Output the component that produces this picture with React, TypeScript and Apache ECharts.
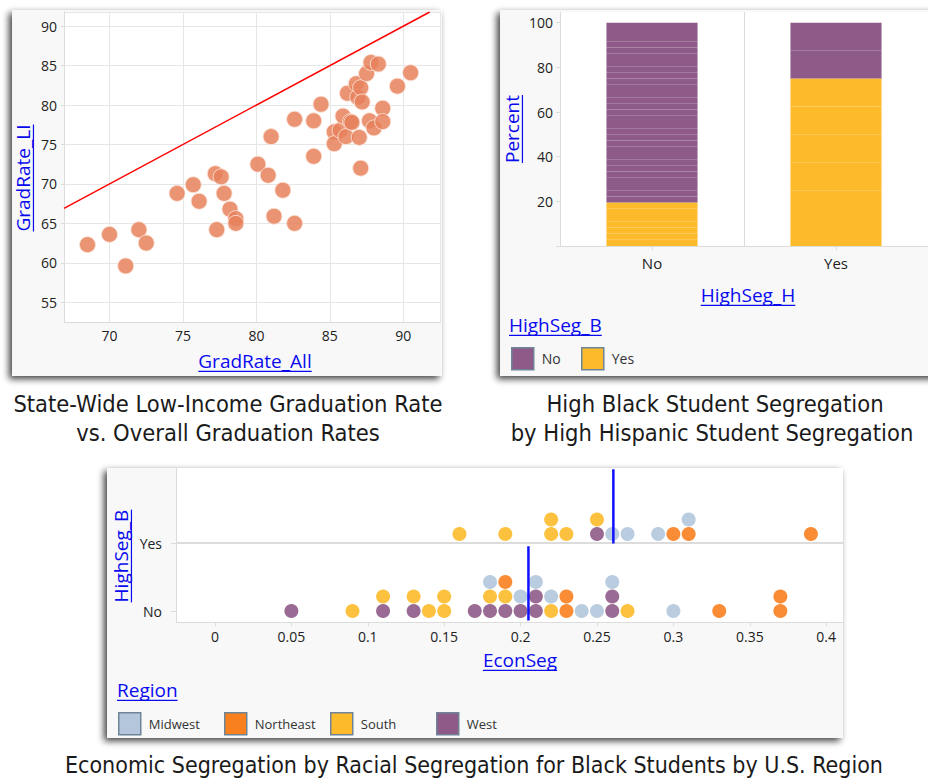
import React, { useEffect, useRef } from 'react';
import * as echarts from 'echarts';

// ---------- Panel 1: graduation rates ----------
const gradRateAll = [68.5, 70.0, 71.1, 72.0, 72.5, 74.6, 75.7, 76.1, 77.2, 77.6, 77.8, 77.3, 78.2, 78.6, 78.6, 80.1, 80.8, 81.0, 81.8, 81.2, 82.6, 82.6, 83.9, 83.9, 84.4, 85.3, 85.3, 85.7, 85.9, 86.1, 86.2, 86.4, 86.5, 86.8, 86.9, 87.0, 87.1, 87.1, 87.2, 87.5, 87.8, 88.3, 87.7, 88.0, 88.6, 88.6, 89.6, 90.5];
const gradRateLI = [62.3, 63.6, 59.6, 64.2, 62.5, 68.8, 69.9, 67.8, 71.3, 70.9, 68.8, 64.2, 66.8, 65.6, 65.0, 72.5, 71.1, 76.0, 69.2, 65.9, 78.2, 65.0, 78.0, 73.5, 80.1, 76.6, 75.1, 76.8, 78.6, 76.0, 81.5, 77.9, 77.8, 82.7, 81.0, 75.9, 82.2, 72.0, 80.4, 84.0, 85.4, 85.2, 78.0, 77.1, 79.6, 77.9, 82.4, 84.1];
const identityLine = [66.9, 91.8];

// ---------- Panel 2: segregation stacked percent ----------
const highSegH = ['No', 'Yes'];
const highSegBNoCount = [29, 2];
const highSegBYesCount = [7, 6];
const highSegBLevels = ['No', 'Yes'];

// ---------- Panel 3: economic segregation dot plot ----------
const highSegBRows = ['No', 'Yes'];
const econSegNo = [0.05, 0.09, 0.11, 0.11, 0.13, 0.13, 0.14, 0.15, 0.15, 0.17, 0.18, 0.18, 0.18, 0.19, 0.19, 0.19, 0.20, 0.20, 0.21, 0.21, 0.21, 0.22, 0.22, 0.23, 0.23, 0.24, 0.25, 0.26, 0.26, 0.26, 0.27, 0.30, 0.33, 0.37, 0.37];
const regionNo = ['West', 'South', 'West', 'South', 'West', 'South', 'South', 'South', 'South', 'West', 'West', 'South', 'Midwest', 'West', 'South', 'Northeast', 'West', 'Midwest', 'West', 'West', 'Midwest', 'South', 'Midwest', 'Northeast', 'Northeast', 'Midwest', 'Midwest', 'West', 'West', 'Midwest', 'South', 'Midwest', 'Northeast', 'Northeast', 'Northeast'];
const econSegYes = [0.16, 0.19, 0.22, 0.22, 0.23, 0.25, 0.25, 0.26, 0.27, 0.29, 0.30, 0.31, 0.31, 0.39];
const regionYes = ['South', 'South', 'South', 'South', 'South', 'West', 'South', 'Midwest', 'Midwest', 'Midwest', 'Northeast', 'Northeast', 'Midwest', 'Northeast'];
const regions = ['Midwest', 'Northeast', 'South', 'West'];

const regionColors: Record<string, string> = {
  Midwest: '#b3c6dc',
  Northeast: '#f9801f',
  South: '#fdba2b',
  West: '#8e5a87',
};
const PURPLE = '#8e5a87';
const YELLOW = '#fdba2b';
const LINK = '#0a0aee';
const UI_FONT = "'Open Sans', 'Noto Sans', sans-serif";
const CAPTION_FONT = "'DejaVu Sans Condensed', 'Liberation Sans Narrow', sans-serif";

function buildOption() {
  const canvas = document.createElement('canvas');
  const ctx = canvas.getContext('2d')!;
  const measure = (t: string, size: number, fam: string) => {
    ctx.font = `${size}px ${fam}`;
    return ctx.measureText(t).width;
  };

  // ----- graphic: cards, titles, captions -----
  const graphics: any[] = [];
  const cards = [
    { x: 12, y: 10, w: 430, h: 366 },
    { x: 500, y: 10, w: 440, h: 366 },
    { x: 107, y: 468, w: 736, h: 270 },
  ];
  cards.forEach((c) => {
    graphics.push({
      type: 'rect',
      z: -10,
      shape: { x: c.x, y: c.y, width: c.w, height: c.h },
      style: {
        fill: '#f8f8f8',
        shadowBlur: 7,
        shadowColor: 'rgba(0,0,0,0.75)',
        shadowOffsetX: -3,
        shadowOffsetY: 3,
      },
    });
  });

  const TFS = 19;
  const axisTitles = [
    { text: 'GradRate_All', x: 255, y: 361, rot: false, left: false },
    { text: 'GradRate_LI', x: 23, y: 178, rot: true, left: false },
    { text: 'Percent', x: 512, y: 129, rot: true, left: false },
    { text: 'HighSeg_H', x: 748, y: 295, rot: false, left: false },
    { text: 'HighSeg_B', x: 509, y: 325, rot: false, left: true },
    { text: 'HighSeg_B', x: 121, y: 556, rot: true, left: false },
    { text: 'EconSeg', x: 520, y: 660, rot: false, left: false },
    { text: 'Region', x: 117, y: 690, rot: false, left: true },
  ];
  axisTitles.forEach((t) => {
    const w = measure(t.text, TFS, UI_FONT);
    graphics.push({
      type: 'text',
      x: t.x,
      y: t.y,
      rotation: t.rot ? Math.PI / 2 : 0,
      style: {
        text: t.text,
        fill: LINK,
        font: `${TFS}px ${UI_FONT}`,
        align: t.left ? 'left' : 'center',
        verticalAlign: 'middle',
      },
    });
    const off = TFS * 0.55;
    if (t.rot) {
      graphics.push({
        type: 'line',
        shape: { x1: t.x + off, y1: t.y - w / 2, x2: t.x + off, y2: t.y + w / 2 },
        style: { stroke: LINK, lineWidth: 1.2 },
      });
    } else {
      const x1 = t.left ? t.x : t.x - w / 2;
      graphics.push({
        type: 'line',
        shape: { x1, y1: t.y + off, x2: x1 + w, y2: t.y + off },
        style: { stroke: LINK, lineWidth: 1.2 },
      });
    }
  });

  const captions = [
    { text: 'State-Wide Low-Income Graduation Rate', x: 228, y: 404, size: 23.5 },
    { text: 'vs. Overall Graduation Rates', x: 228, y: 433, size: 23.5 },
    { text: 'High Black Student Segregation', x: 715, y: 404, size: 23.5 },
    { text: 'by High Hispanic Student Segregation', x: 712, y: 433, size: 23.5 },
    { text: 'Economic Segregation by Racial Segregation for Black Students by U.S. Region', x: 474, y: 765, size: 23 },
  ];
  captions.forEach((c) => {
    graphics.push({
      type: 'text',
      x: c.x,
      y: c.y,
      style: {
        text: c.text,
        fill: '#1a1a1a',
        font: `${c.size}px ${CAPTION_FONT}`,
        align: 'center',
        verticalAlign: 'middle',
      },
    });
  });

  // ----- panel 2 stacked unit bars -----
  const totals = highSegH.map((_, j) => highSegBNoCount[j] + highSegBYesCount[j]);
  const barSeries: any[] = [];
  const groups = [
    { name: 'Yes', counts: highSegBYesCount, color: YELLOW },
    { name: 'No', counts: highSegBNoCount, color: PURPLE },
  ];
  groups.forEach((g) => {
    const maxC = Math.max(...g.counts);
    for (let k = 0; k < maxC; k++) {
      barSeries.push({
        type: 'bar',
        name: g.name,
        stack: 'pct',
        xAxisIndex: 1,
        yAxisIndex: 1,
        barWidth: '49.5%',
        data: highSegH.map((_, j) => (k < g.counts[j] ? (100 / totals[j]) : null)),
        itemStyle: { color: g.color, borderWidth: 0 },
      });
    }
  });

  // ----- panel 3 dot stacking -----
  const DOT_BASE = 11 / 77;
  const DOT_STEP = 14.5 / 77;
  const levels: Record<string, number> = {};
  const dotData: Record<string, number[][]> = {};
  regions.forEach((r) => (dotData[r] = []));
  const rowsVals = [econSegNo, econSegYes];
  const rowsRegs = [regionNo, regionYes];
  rowsVals.forEach((vals, ri) => {
    vals.forEach((v, i) => {
      const key = ri + '|' + v.toFixed(2);
      const lvl = levels[key] ?? 0;
      levels[key] = lvl + 1;
      dotData[rowsRegs[ri][i]].push([v, ri + DOT_BASE + lvl * DOT_STEP]);
    });
  });
  const dotSeries = regions.map((r) => ({
    type: 'scatter',
    name: r,
    xAxisIndex: 2,
    yAxisIndex: 2,
    symbolSize: 14,
    data: dotData[r],
    itemStyle: { color: regionColors[r], opacity: 0.9 },
    z: 3,
  }));
  const meanSeries = rowsVals.map((vals, ri) => {
    const m = vals.reduce((a, b) => a + b, 0) / vals.length;
    return {
      type: 'line',
      xAxisIndex: 2,
      yAxisIndex: 2,
      symbol: 'none',
      data: [[m, ri + 0.02], [m, ri + 0.985]],
      lineStyle: { color: '#1010ff', width: 2.5 },
      z: 5,
      silent: true,
    };
  });

  const gray = '#dcdcdc';
  const tickLabel = { fontFamily: UI_FONT, fontSize: 14, color: '#222' };
  const every5 = (v: number) => (Math.abs(v / 5 - Math.round(v / 5)) < 1e-6 ? String(v) : '');
  const every005 = (v: number) => {
    const r = Math.round(v / 0.05) * 0.05;
    return Math.abs(v - r) < 1e-6 ? String(+v.toFixed(2)) : '';
  };

  const legendItem = (name: string, left: number, top: number, fontSize: number) => ({
    data: [name],
    left,
    top,
    padding: 0,
    orient: 'horizontal',
    icon: 'rect',
    itemWidth: 22,
    itemHeight: 22,
    selectedMode: false,
    itemStyle: { borderColor: '#6f8597', borderWidth: 1.5, opacity: 1 },
    textStyle: { fontFamily: UI_FONT, fontSize, color: '#333', padding: [0, 0, 0, 3] },
  });
  const legends = [
    ...highSegBLevels.map((n, i) => legendItem(n, 511 + i * 70, 347, 14)),
    ...regions.map((n, i) => legendItem(n, 118 + i * 106, 712, 13)),
  ];

  return {
    animation: false,
    backgroundColor: '#ffffff',
    graphic: { elements: graphics },
    legend: legends,
    grid: [
      { left: 64, top: 12, width: 376, height: 310.7, show: true, backgroundColor: '#ffffff', borderWidth: 0 },
      { left: 560, top: 12, width: 376, height: 234, show: true, backgroundColor: '#ffffff', borderWidth: 0 },
      { left: 176, top: 468, width: 667, height: 154, show: true, backgroundColor: '#ffffff', borderWidth: 0 },
      { left: 176, top: 543, width: 667, height: 68, show: false },
    ],
    xAxis: [
      {
        type: 'value', gridIndex: 0, min: 66.9, max: 92.5, splitNumber: 5,
        axisLine: { onZero: false, lineStyle: { color: gray } },
        axisTick: { show: false },
        axisLabel: { ...tickLabel, margin: 6, showMinLabel: false, showMaxLabel: false, formatter: every5 },
        splitLine: { show: true, lineStyle: { color: '#e6e6e6' } },
      },
      {
        type: 'category', gridIndex: 1, data: highSegH,
        axisLine: { onZero: false, lineStyle: { color: gray } },
        axisTick: { show: true, alignWithLabel: true, length: 4, lineStyle: { color: gray } },
        axisLabel: { ...tickLabel, fontSize: 15, margin: 9 },
        splitLine: { show: true, lineStyle: { color: gray } },
      },
      {
        type: 'value', gridIndex: 2, min: -0.0255, max: 0.411, splitNumber: 8,
        axisLine: { onZero: false, lineStyle: { color: gray } },
        axisTick: { show: true, length: 4, lineStyle: { color: gray } },
        axisLabel: { ...tickLabel, margin: 7, showMinLabel: false, showMaxLabel: false, formatter: every005 },
        splitLine: { show: false },
      },
      { type: 'value', gridIndex: 3, show: false, min: 0, max: 1 },
    ],
    yAxis: [
      {
        type: 'value', gridIndex: 0, min: 52.4, max: 91.8, splitNumber: 8,
        axisLine: { show: true, onZero: false, lineStyle: { color: gray } },
        axisTick: { show: true, length: 3, lineStyle: { color: gray } },
        axisLabel: { ...tickLabel, margin: 7, showMinLabel: false, showMaxLabel: false, formatter: every5 },
        splitLine: { show: true, lineStyle: { color: '#e6e6e6' } },
      },
      {
        type: 'value', gridIndex: 1, min: 0, max: 104.8, interval: 20,
        axisLine: { show: true, onZero: false, lineStyle: { color: gray } },
        axisTick: { show: true, length: 4, lineStyle: { color: gray } },
        axisLabel: { ...tickLabel, margin: 7, showMaxLabel: false, formatter: (v: number) => (v === 0 || v % 20 !== 0 ? '' : String(v)) },
        splitLine: { show: false },
      },
      {
        type: 'value', gridIndex: 2, min: 0, max: 2,
        axisLine: { show: true, onZero: false, lineStyle: { color: gray } },
        axisTick: { show: false },
        axisLabel: { show: false },
        splitLine: { show: false },
      },
      {
        type: 'category', gridIndex: 3, data: highSegBRows, boundaryGap: false,
        axisLine: { show: false },
        axisTick: { show: true, length: 5, lineStyle: { color: gray } },
        axisLabel: { ...tickLabel, fontSize: 14, margin: 14 },
        splitLine: { show: true, interval: (i: number, v: string) => v === 'Yes', lineStyle: { color: gray, width: 2 } },
      },
    ],
    series: [
      {
        type: 'scatter',
        name: 'states',
        xAxisIndex: 0,
        yAxisIndex: 0,
        symbolSize: 16,
        data: gradRateAll.map((x, i) => [x, gradRateLI[i]]),
        itemStyle: { color: '#e6815c', opacity: 0.85, borderColor: '#fbe3d8', borderWidth: 1 },
        z: 3,
      },
      {
        type: 'line',
        name: 'y = x',
        xAxisIndex: 0,
        yAxisIndex: 0,
        symbol: 'none',
        data: identityLine.map((v) => [v, v]),
        lineStyle: { color: '#ff0000', width: 1.5 },
        z: 4,
        silent: true,
      },
      ...barSeries,
      ...dotSeries,
      ...meanSeries,
    ],
  };
}

export default function App() {
  const ref = useRef<HTMLDivElement>(null);
  useEffect(() => {
    const chart = echarts.init(ref.current!, undefined, { renderer: 'svg' });
    chart.setOption(buildOption() as any);
    return () => chart.dispose();
  }, []);
  return (
    <div
      ref={ref}
      style={{ position: 'absolute', left: 0, top: 0, width: 928, height: 779, background: '#fff' }}
    />
  );
}
